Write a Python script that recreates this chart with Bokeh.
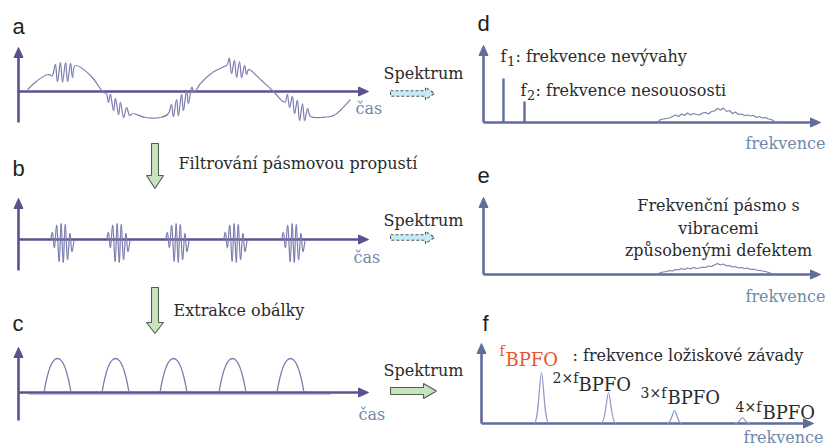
from bokeh.plotting import figure
from bokeh.layouts import row, column
from bokeh.models import Range1d
from bokeh.core.properties import value
from bokeh.embed import file_html
from bokeh.resources import INLINE

# ---------------- data (time / frequency in px from the origin, amplitude in px) -------------
# (a) raw vibration signal: shaft sine + impact bursts
sig_a_t = [9, 19, 29, 34, 37, 39, 42, 44, 47, 49, 52, 54, 57, 72, 84,
           88, 90, 92, 95, 97, 100, 102, 105, 108, 111, 115, 127, 142,
           150, 153, 155, 158, 160, 163, 165, 168, 170, 173, 176, 182, 194, 206,
           209, 211, 213, 216, 218, 221, 223, 226, 228, 231, 242, 255, 263,
           267, 269, 271, 274, 276, 279, 281, 284, 286, 289, 292, 302, 317, 332]
sig_a_v = [2, 11, 17, 16, 27, 10, 29, 9, 29, 10, 28, 14, 26, 16, 0,
           -2, -11, -3, -19, -7, -23, -11, -26, -16, -24, -22, -26, -26,
           -22, -13, -25, -8, -24, -3, -19, 1, -12, 4, -1, 8, 19, 25,
           27, 33, 18, 31, 14, 30, 14, 26, 17, 22, 12, 0, -9,
           -10, -3, -16, -5, -22, -9, -29, -12, -29, -17, -25, -26, -23, -8]
# (b) one band-pass filtered burst (extrema), repeated at each impact
burst_t = [-11.7, -10, -8, -5.7, -3.3, -1.3, 0.7, 2.7, 5, 7.3, 9.3, 11.7]
burst_v = [0, 7, -8, 14, -22, 16, -23, 15, -20, 6, -12, 0]
burst_centres = [44, 100, 159, 217, 275]
# (c) envelope humps
env_centres = [39, 97, 155, 214, 272]
env_height = 34
env_halfwidth = 13.5
# (d) spectrum of raw signal
d_line_f = [20, 41]
d_line_h = [44, 21]
band_f0 = 174
band_df = 3
band_d = [0, 3, 3.5, 4, 4.5, 6, 7.5, 6, 8.5, 7, 9.5, 7.5, 9, 8, 7.5, 9.5, 10, 8.5, 11, 11.5,
          14, 12.5, 14.5, 11, 12, 9, 10.5, 8, 8.5, 7, 7.5, 6.5, 7, 5, 6, 4.5, 5, 3.5, 3, 1, 0]
# (e) spectrum of filtered signal
band_e = [0, 2, 2.5, 3, 4, 3.5, 5, 4.5, 6, 5, 6.5, 5.5, 7, 6, 6.5, 7.5, 7, 8.5, 8, 9.5,
          11, 9.5, 10.5, 8.5, 9, 7.5, 8, 6.5, 7, 6, 6.5, 5, 5.5, 4.5, 4, 3.5, 3, 2, 1, 0]
# (f) envelope spectrum: BPFO harmonics
bpfo_f = [60, 127, 193, 261]
bpfo_h = [51, 31, 13, 6]
harm_labels = ["2\u00d7f", "3\u00d7f", "4\u00d7f"]

# ---------------- styles ----------------
AX1 = "#5b5190"
AX2 = "#5f6d9a"
SIG = "#7d7db0"
PEAK = "#8d96c8"
LBL = "#6e89ad"
TXT = "#2a2a2a"
RED = "#e8552d"
SANS = "Liberation Sans"
SERIF = "DejaVu Serif"
FS = 16  # main serif size


def mkfig(w, h, xr, yr):
    p = figure(width=w, height=h, x_range=Range1d(*xr), y_range=Range1d(*yr),
               output_backend="svg", toolbar_location=None, min_border=0,
               x_axis_type=None, y_axis_type=None)
    p.xgrid.visible = False
    p.ygrid.visible = False
    p.outline_line_color = None
    p.background_fill_color = "white"
    p.border_fill_color = "white"
    return p


def axes(p, vb, vt, he, c):
    p.segment(x0=[0, 0], y0=[vb, 0], x1=[0, he - 6], y1=[vt - 6, 0], line_color=c, line_width=2.6)
    p.patches(xs=[[0, -4.5, 4.5], [he, he - 10, he - 10]],
              ys=[[vt, vt - 10, vt - 10], [0, 4.5, -4.5]],
              fill_color=c, line_color=c, line_width=1)


def smooth(p, xs, ys, color=SIG, width=1.2):
    n = len(xs)
    X0, Y0, X1, Y1, CX0, CY0, CX1, CY1 = [], [], [], [], [], [], [], []
    for i in range(n - 1):
        a = i - 1 if i > 0 else i
        b = i + 2 if i + 2 < n else i + 1
        X0.append(xs[i]); Y0.append(ys[i]); X1.append(xs[i + 1]); Y1.append(ys[i + 1])
        CX0.append(xs[i] + (xs[i + 1] - xs[a]) / 6); CY0.append(ys[i] + (ys[i + 1] - ys[a]) / 6)
        CX1.append(xs[i + 1] - (xs[b] - xs[i]) / 6); CY1.append(ys[i + 1] - (ys[b] - ys[i]) / 6)
    p.bezier(x0=X0, y0=Y0, x1=X1, y1=Y1, cx0=CX0, cy0=CY0, cx1=CX1, cy1=CY1,
             line_color=color, line_width=width)


def txt(p, o, X, Y, s, size=FS, color=TXT, font=SERIF, align="left"):
    # Y is the intended baseline (page px); place the em-box middle
    yc = Y - 0.32 * size
    p.text(x=[X - o[0]], y=[o[1] - yc], text=[s], text_font=value(font),
           text_font_size=f"{size}px", text_color=color, text_baseline="middle",
           text_align=align)


def poly(p, o, pts, fill, line, dash="solid"):
    p.patch(x=[X - o[0] for X, Y in pts], y=[o[1] - Y for X, Y in pts],
            fill_color=fill, line_color=line, line_width=1.1, line_dash=dash)


def dashed_arrow(p, o, yc):
    pts = [(390, yc - 2.7), (425, yc - 2.7), (425, yc - 6.2), (434, yc), (425, yc + 6.2),
           (425, yc + 2.7), (390, yc + 2.7)]
    poly(p, o, pts, "#c5ebf8", "#555555", "3 2")


def down_arrow(p, o, y0, yh, ytip):
    pts = [(151, y0), (158, y0), (158, yh), (163, yh), (154.5, ytip), (146, yh), (151, yh)]
    poly(p, o, pts, "#c6e5bf", "#4f5e4f")


# ---------------- panel a ----------------
oa = (18, 91)
pa = mkfig(470, 140, (-18, 452), (-49, 91))
axes(pa, -31, 44, 350, AX1)
smooth(pa, sig_a_t, sig_a_v)
txt(pa, oa, 12, 33, "a", 22, "#1e1e1e", SANS)
txt(pa, oa, 355, 113, "\u010das", FS, LBL)
txt(pa, oa, 383, 78, "Spektrum")
dashed_arrow(pa, oa, 93)

# ---------------- panel b ----------------
ob = (18, 239)
pb = mkfig(470, 146, (-18, 452), (-47, 99))
axes(pb, -31, 41, 350, AX1)
for c in burst_centres:
    smooth(pb, [c + t for t in burst_t], burst_v)
txt(pb, ob, 12, 175, "b", 22, "#1e1e1e", SANS)
txt(pb, ob, 353, 262, "\u010das", FS, LBL)
txt(pb, ob, 383, 225, "Spektrum")
txt(pb, ob, 178, 168, "Filtrov\u00e1n\u00ed p\u00e1smovou propust\u00ed")
dashed_arrow(pb, ob, 237)
down_arrow(pb, ob, 143, 175, 188)

# ---------------- panel c ----------------
oc = (18, 392)
pc = mkfig(470, 162, (-18, 452), (-56, 106))
axes(pc, -28, 45, 350, AX1)
pc.segment(x0=[10], y0=[-1.3], x1=[312], y1=[-1.3], line_color=SIG, line_width=1.6)
k = env_height * 4 / 3
pc.bezier(x0=[c - env_halfwidth for c in env_centres], y0=[0] * len(env_centres),
          x1=[c + env_halfwidth for c in env_centres], y1=[0] * len(env_centres),
          cx0=[c - 6 for c in env_centres], cy0=[k] * len(env_centres),
          cx1=[c + 6 for c in env_centres], cy1=[k] * len(env_centres),
          line_color=SIG, line_width=1.3)
txt(pc, oc, 12, 330, "c", 22, "#1e1e1e", SANS)
txt(pc, oc, 358, 419, "\u010das", FS, LBL)
txt(pc, oc, 383, 375, "Spektrum")
txt(pc, oc, 173, 315, "Extrakce ob\u00e1lky")
down_arrow(pc, oc, 287, 322, 333)
poly(pc, oc, [(390, 387), (423, 387), (423, 383), (436, 390.5), (423, 398), (423, 394), (390, 394)],
     "#c6e5bf", "#4f5e4f")

# ---------------- panel d ----------------
od = (483, 122)
pd = mkfig(357, 152, (-13, 344), (-30, 122))
axes(pd, 0, 77, 337, AX2)
pd.segment(x0=d_line_f, y0=[0] * len(d_line_f), x1=d_line_f, y1=d_line_h,
           line_color=AX2, line_width=2.4)
pd.line(x=[band_f0 + band_df * i for i in range(len(band_d))], y=band_d,
        line_color=SIG, line_width=1.1)
txt(pd, od, 477, 30, "d", 22, "#1e1e1e", SANS)
txt(pd, od, 500, 61, "f")
txt(pd, od, 506.5, 65, "1", 13)
txt(pd, od, 515, 61, ": frekvence nev\u00fdvahy")
txt(pd, od, 520, 95, "f")
txt(pd, od, 526.5, 99, "2", 13)
txt(pd, od, 535, 95, ": frekvence nesouososti")
txt(pd, od, 745, 148, "frekvence", FS, LBL)

# ---------------- panel e ----------------
oe = (483, 274)
pe = mkfig(357, 154, (-13, 344), (-32, 122))
axes(pe, 0, 77, 337, AX2)
pe.line(x=[band_f0 + band_df * i for i in range(len(band_e))], y=band_e,
        line_color=SIG, line_width=1.1)
txt(pe, oe, 477, 182, "e", 22, "#1e1e1e", SANS)
txt(pe, oe, 718, 210, "Frekven\u010dn\u00ed p\u00e1smo s", align="center")
txt(pe, oe, 718, 233, "vibracemi", align="center")
txt(pe, oe, 718, 255, "zp\u016fsoben\u00fdmi defektem", align="center")
txt(pe, oe, 745, 301, "frekvence", FS, LBL)

# ---------------- panel f ----------------
of = (481, 423)
pf = mkfig(357, 142, (-11, 346), (-25, 117))
axes(pf, 0, 80, 332, AX2)
hw = 7.5
X0, Y0, X1, Y1, CX0, CY0, CX1, CY1 = [], [], [], [], [], [], [], []
for fq, h in zip(bpfo_f, bpfo_h):
    for s in (-1, 1):
        X0.append(fq + s * hw); Y0.append(0); X1.append(fq); Y1.append(h)
        CX0.append(fq + s * 2.8); CY0.append(0); CX1.append(fq + s * 1.8); CY1.append(h)
pf.bezier(x0=X0, y0=Y0, x1=X1, y1=Y1, cx0=CX0, cy0=CY0, cx1=CX1, cy1=CY1,
          line_color=PEAK, line_width=1.2)
txt(pf, of, 482, 330, "f", 22, "#1e1e1e", SANS)
txt(pf, of, 499, 355, "f", 14, RED)
txt(pf, of, 505, 365, "BPFO", 18, RED)
txt(pf, of, 572, 360, ": frekvence lo\u017eiskov\u00e9 z\u00e1vady")
hx = [552, 640, 735]
hy = [382, 397, 411]
bx = [578, 667, 762]
by = [390, 403, 418]
for lab, x1_, y1_, x2_, y2_ in zip(harm_labels, hx, hy, bx, by):
    txt(pf, of, x1_, y1_, lab, 14)
    txt(pf, of, x2_, y2_, "BPFO", 18)
txt(pf, of, 743, 442, "frekvence", FS, LBL)

layout = row(column(pa, pb, pc), column(pd, pe, pf))
open("out.html", "w").write(file_html(layout, INLINE))
